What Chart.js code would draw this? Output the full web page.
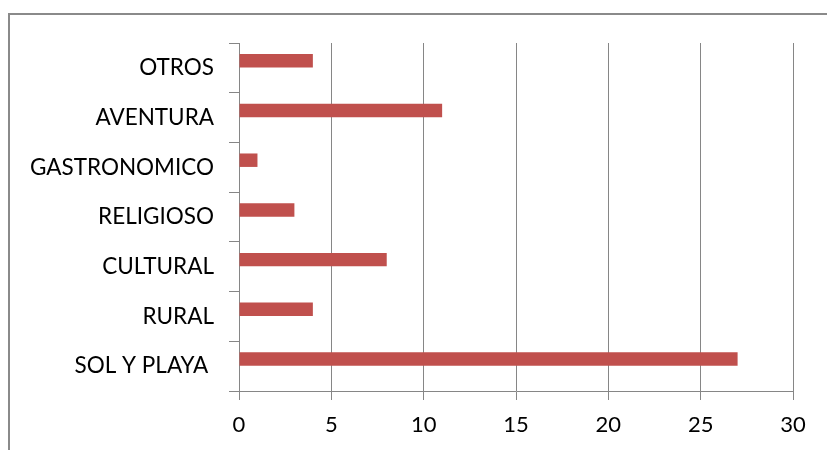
<!DOCTYPE html>
<html>
<head>
<meta charset="utf-8">
<script src="https://cdn.jsdelivr.net/npm/chart.js@4/dist/chart.umd.min.js"></script>
<style>
    html, body { margin: 0; padding: 0; background: #fff; }
    #wrap { position: relative; width: 827px; height: 450px; }
    #marco {
        position: absolute; left: 8px; top: 13px; right: 0; bottom: 0;
        border-top: 2px solid #8a8a8a; border-left: 2px solid #8a8a8a;
    }
    canvas { position: absolute; left: 0; top: 0; }
</style>
</head>
<body>
<div id="wrap">
    <div id="marco"></div>
    <canvas id="graph" width="827" height="450"></canvas>
</div>
<script>
// Tipos de turismo (de arriba a abajo)
const categorias = ['OTROS', 'AVENTURA', 'GASTRONOMICO', 'RELIGIOSO', 'CULTURAL', 'RURAL', 'SOL Y PLAYA '];
const valores = [4, 11, 1, 3, 8, 4, 27];
// segunda serie vacía (en el original ocupa el hueco bajo cada barra)
const valoresVacios = [null, null, null, null, null, null, null];
const ticksX = [0, 5, 10, 15, 20, 25, 30];

const ctx = document.getElementById('graph').getContext('2d');
const gris = '#868686';

const data = {
    labels: categorias,
    datasets: [{
        data: valores,
        backgroundColor: '#C0504D',
        borderWidth: 0
    }, {
        data: valoresVacios,
        backgroundColor: '#4F81BD',
        borderWidth: 0
    }]
};

const config = {
    type: 'bar',
    data: data,
    options: {
        indexAxis: 'y',
        responsive: false,
        animation: false,
        barPercentage: 0.95,
        categoryPercentage: 0.57,
        layout: { padding: { left: 0, right: 34, top: 43, bottom: 0 } },
        plugins: { legend: { display: false }, tooltip: { enabled: false } },
        scales: {
            x: {
                min: ticksX[0],
                max: ticksX[ticksX.length - 1],
                afterBuildTicks: (s) => { s.ticks = ticksX.map(v => ({ value: v })); },
                grid: { color: gris, lineWidth: 1, tickLength: 9 },
                border: { color: gris, width: 1 },
                ticks: { color: '#000', padding: 12, font: { family: 'Lato', size: 22 } },
                afterFit: (s) => { s.height = 59; }
            },
            y: {
                grid: { offset: true, drawOnChartArea: false, color: gris, tickLength: 10 },
                border: { color: gris, width: 1 },
                ticks: { color: '#000', padding: 15, font: { family: 'Lato', size: 22.5 } },
                afterFit: (s) => { s.width = 239; }
            }
        }
    }
};

const myChart = new Chart(ctx, config);
</script>
</body>
</html>
